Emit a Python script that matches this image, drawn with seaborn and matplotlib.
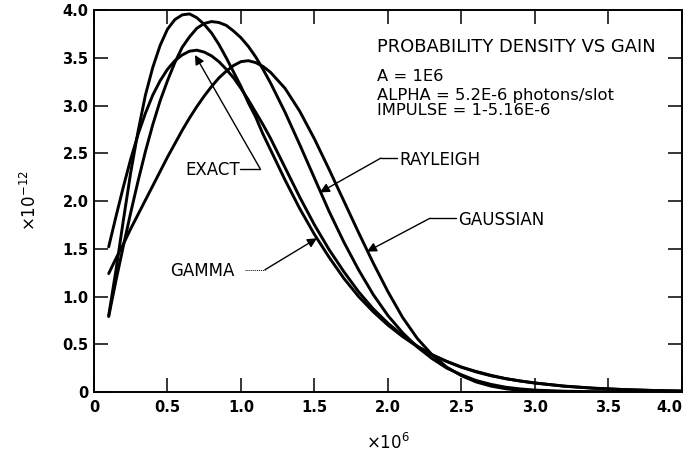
import pandas as pd
import seaborn as sns
from matplotlib import pyplot as plt

# gain values (x1e6) and probability density (x1e-12)
gain = [0.1, 0.15, 0.2, 0.25, 0.3, 0.35, 0.4, 0.45, 0.5, 0.55, 0.6, 0.65,
        0.7, 0.75, 0.8, 0.85, 0.9, 0.95, 1.0, 1.05, 1.1, 1.15, 1.2,
        1.3, 1.4, 1.5, 1.6, 1.7, 1.8, 1.9, 2.0, 2.1, 2.2, 2.3, 2.4, 2.5,
        2.6, 2.7, 2.8, 2.9, 3.0, 3.2, 3.4, 3.6, 3.8, 4.0]

exact = [1.52, 1.84, 2.15, 2.44, 2.70, 2.92, 3.11, 3.26, 3.38, 3.47, 3.53, 3.57,
         3.58, 3.56, 3.52, 3.46, 3.38, 3.29, 3.18, 3.06, 2.93, 2.80, 2.66,
         2.35, 2.04, 1.75, 1.49, 1.26, 1.05, 0.87, 0.72, 0.59, 0.48, 0.39, 0.32, 0.26,
         0.21, 0.17, 0.14, 0.115, 0.095, 0.062, 0.04, 0.026, 0.016, 0.01]

gamma = [0.80, 1.28, 1.80, 2.30, 2.73, 3.11, 3.40, 3.63, 3.80, 3.90, 3.95, 3.96,
         3.92, 3.85, 3.76, 3.64, 3.50, 3.35, 3.20, 3.03, 2.88, 2.70, 2.54,
         2.22, 1.92, 1.65, 1.41, 1.19, 1.00, 0.84, 0.70, 0.58, 0.475, 0.39, 0.32, 0.26,
         0.215, 0.175, 0.14, 0.115, 0.093, 0.06, 0.039, 0.025, 0.016, 0.01]

rayleigh = [0.79, 1.17, 1.53, 1.88, 2.21, 2.52, 2.80, 3.05, 3.26, 3.45, 3.61, 3.72,
            3.81, 3.86, 3.88, 3.87, 3.84, 3.78, 3.71, 3.62, 3.51, 3.38, 3.24,
            2.93, 2.59, 2.24, 1.89, 1.57, 1.28, 1.02, 0.80, 0.62, 0.47, 0.35, 0.25, 0.18,
            0.12, 0.08, 0.05, 0.032, 0.02, 0.008, 0.003, 0.001, 0.0, 0.0]

gaussian = [1.24, 1.40, 1.55, 1.71, 1.86, 2.01, 2.16, 2.31, 2.46, 2.60, 2.74, 2.87,
            2.99, 3.10, 3.20, 3.29, 3.36, 3.42, 3.46, 3.47, 3.45, 3.41, 3.35,
            3.18, 2.94, 2.65, 2.33, 2.00, 1.67, 1.35, 1.05, 0.78, 0.56, 0.39, 0.26, 0.17,
            0.105, 0.062, 0.034, 0.017, 0.008, 0.002, 0.0, 0.0, 0.0, 0.0]

ticks = [0, 0.5, 1.0, 1.5, 2.0, 2.5, 3.0, 3.5, 4.0]
tick_labels = ["0", "0.5", "1.0", "1.5", "2.0", "2.5", "3.0", "3.5", "4.0"]

df = pd.DataFrame({"gain": gain, "EXACT": exact, "GAMMA": gamma,
                   "RAYLEIGH": rayleigh, "GAUSSIAN": gaussian})

sns.set_style("ticks")
plt.rcParams["font.family"] = ["DejaVu Sans"]
plt.rcParams["text.color"] = "black"
plt.rcParams["axes.labelcolor"] = "black"

fig = plt.figure(figsize=(6.84, 4.59), dpi=100)
ax = fig.add_axes([0.1374, 0.146, 0.8596, 0.832])

for name in ["EXACT", "GAMMA", "RAYLEIGH", "GAUSSIAN"]:
    sns.lineplot(data=df, x="gain", y=name, color="black", lw=2.1, ax=ax)

ax.set_xlim(0, 4.0)
ax.set_ylim(0, 4.0)
ax.set_xticks(ticks)
ax.set_xticklabels(tick_labels)
ax.set_yticks(ticks)
ax.set_yticklabels(tick_labels)
ax.tick_params(direction="in", length=10, width=1.1, top=True, right=True,
               labelsize=10.5, colors="black")
ax.tick_params(axis="x", pad=6)
ax.tick_params(axis="y", pad=4)
for lbl in ax.get_xticklabels() + ax.get_yticklabels():
    lbl.set_fontweight("bold")
# last x label sits against the right edge of the figure
ax.get_xticklabels()[-1].set_horizontalalignment("right")
for sp in ax.spines.values():
    sp.set_linewidth(1.4)
    sp.set_color("black")

ax.set_xlabel("×10$^{6}$", fontsize=12, labelpad=13)
ax.set_ylabel("×10$^{-12}$", fontsize=12, labelpad=16)

# header text block
ax.text(1.925, 3.61, "PROBABILITY DENSITY VS GAIN", fontsize=12.9, va="center")
ax.text(1.925, 3.30, "A = 1E6", fontsize=11.8, va="center")
ax.text(1.925, 3.11, "ALPHA = 5.2E-6 photons/slot", fontsize=11.8, va="center")
ax.text(1.925, 2.95, "IMPULSE = 1-5.16E-6", fontsize=11.8, va="center")

# curve labels with leaders
arrow = dict(arrowstyle="-|>", color="black", lw=1.0, mutation_scale=14,
             shrinkA=0, shrinkB=0)

ax.text(0.62, 2.32, "EXACT", fontsize=12, va="center")
ax.plot([0.99, 1.13], [2.34, 2.34], color="black", lw=1.0)
ax.annotate("", xy=(0.687, 3.53), xytext=(1.13, 2.34), arrowprops=arrow)

ax.text(0.517, 1.27, "GAMMA", fontsize=12, va="center")
ax.plot([1.03, 1.163], [1.28, 1.28], color="black", lw=0.7, ls=(0, (1, 1)))
ax.annotate("", xy=(1.517, 1.61), xytext=(1.163, 1.28), arrowprops=arrow)

ax.text(2.08, 2.43, "RAYLEIGH", fontsize=12, va="center")
ax.plot([1.952, 2.06], [2.45, 2.45], color="black", lw=1.0)
ax.annotate("", xy=(1.537, 2.09), xytext=(1.952, 2.45), arrowprops=arrow)

ax.text(2.476, 1.80, "GAUSSIAN", fontsize=12, va="center")
ax.plot([2.286, 2.46], [1.82, 1.82], color="black", lw=1.0)
ax.annotate("", xy=(1.857, 1.47), xytext=(2.286, 1.82), arrowprops=arrow)

fig.savefig("out.png", dpi=100)
